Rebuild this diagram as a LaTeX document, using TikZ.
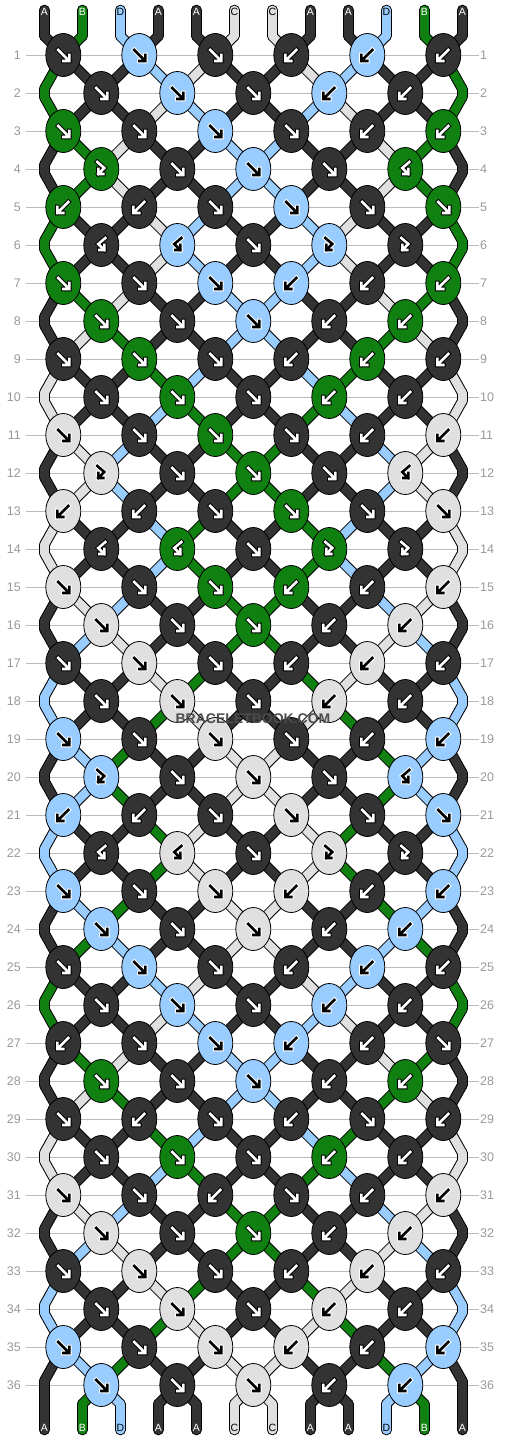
\documentclass[tikz,border=0pt]{standalone}
\usepackage{fontspec}
\setsansfont{Liberation Sans}
\usetikzlibrary{shapes.geometric}
\pgfdeclarelayer{back}
\pgfsetlayers{back,main}

\definecolor{strA}{HTML}{333333}
\definecolor{strB}{HTML}{108010}
\definecolor{strC}{HTML}{E0E0E0}
\definecolor{strD}{HTML}{99CCFF}
\colorlet{arrfgA}{white}\colorlet{arrbgA}{black}
\colorlet{arrfgB}{white}\colorlet{arrbgB}{black}
\colorlet{arrfgC}{black}\colorlet{arrbgC}{white}
\colorlet{arrfgD}{black}\colorlet{arrbgD}{white}
\definecolor{gridgray}{HTML}{BBBBBB}
\definecolor{numgray}{HTML}{999999}

\tikzset{
  knot/.style={ellipse, draw=black, line width=0.8pt, minimum width=35pt, minimum height=43pt, inner sep=0pt},
  strout/.style={line width=10.6pt, color=black, line cap=round},
  strfill/.style={line width=8.6pt, color=str#1, line cap=round},
  arrbg/.style={line width=4.6pt, color=arrbg#1, line cap=rect},
  arrfg/.style={line width=2.6pt, color=arrfg#1, line cap=rect},
  gridline/.style={line width=0.8pt, color=gridgray},
  rownum/.style={font=\sffamily\fontsize{12.5}{12.5}\selectfont, text=numgray, inner sep=0pt},
  endlab/.style={font=\sffamily\fontsize{10.5}{10.5}\selectfont, text=arrfg#1, inner sep=0pt},
  pics/arrf/.style={code={
    \draw[arrbg=#1] (-5,-5) -- (5.5,5.5) (6,0) -- (6,6) -- (0,6);
    \draw[arrfg=#1] (-5,-5) -- (5.5,5.5) (6,0) -- (6,6) -- (0,6);}},
  pics/arrb/.style={code={
    \draw[arrbg=#1] (5,-5) -- (-5.5,5.5) (-6,0) -- (-6,6) -- (0,6);
    \draw[arrfg=#1] (5,-5) -- (-5.5,5.5) (-6,0) -- (-6,6) -- (0,6);}},
  pics/arrfb/.style={code={
    \draw[arrbg=#1] (-4,-7) -- (3,-1) -- (-3,5) (-3,0) -- (-3,5) -- (2,5);
    \draw[arrfg=#1] (-4,-7) -- (3,-1) -- (-3,5) (-3,0) -- (-3,5) -- (2,5);}},
  pics/arrbf/.style={code={
    \draw[arrbg=#1] (4,-7) -- (-3,-1) -- (3,5) (3,0) -- (3,5) -- (-2,5);
    \draw[arrfg=#1] (4,-7) -- (-3,-1) -- (3,5) (3,0) -- (3,5) -- (-2,5);}}
}

% colour of each strand position after every row
\def\strandrows{
  0/{A,B,D,A,A,C,C,A,A,D,B,A}, 1/{B,A,A,D,C,A,A,C,D,A,A,B},
  2/{B,A,A,C,D,A,A,D,C,A,A,B}, 3/{A,B,C,A,A,D,D,A,A,C,B,A},
  4/{A,B,C,A,A,D,D,A,A,C,B,A}, 5/{B,A,A,C,D,A,A,D,C,A,A,B},
  6/{B,A,A,C,D,A,A,D,C,A,A,B}, 7/{A,B,C,A,A,D,D,A,A,C,B,A},
  8/{A,C,B,A,A,D,D,A,A,B,C,A}, 9/{C,A,A,B,D,A,A,D,B,A,A,C},
  10/{C,A,A,D,B,A,A,B,D,A,A,C}, 11/{A,C,D,A,A,B,B,A,A,D,C,A},
  12/{A,C,D,A,A,B,B,A,A,D,C,A}, 13/{C,A,A,D,B,A,A,B,D,A,A,C},
  14/{C,A,A,D,B,A,A,B,D,A,A,C}, 15/{A,C,D,A,A,B,B,A,A,D,C,A},
  16/{A,D,C,A,A,B,B,A,A,C,D,A}, 17/{D,A,A,C,B,A,A,B,C,A,A,D},
  18/{D,A,A,B,C,A,A,C,B,A,A,D}, 19/{A,D,B,A,A,C,C,A,A,B,D,A},
  20/{A,D,B,A,A,C,C,A,A,B,D,A}, 21/{D,A,A,B,C,A,A,C,B,A,A,D},
  22/{D,A,A,B,C,A,A,C,B,A,A,D}, 23/{A,D,B,A,A,C,C,A,A,B,D,A},
  24/{A,B,D,A,A,C,C,A,A,D,B,A}, 25/{B,A,A,D,C,A,A,C,D,A,A,B},
  26/{B,A,A,C,D,A,A,D,C,A,A,B}, 27/{A,B,C,A,A,D,D,A,A,C,B,A},
  28/{A,C,B,A,A,D,D,A,A,B,C,A}, 29/{C,A,A,B,D,A,A,D,B,A,A,C},
  30/{C,A,A,D,B,A,A,B,D,A,A,C}, 31/{A,C,D,A,A,B,B,A,A,D,C,A},
  32/{A,D,C,A,A,B,B,A,A,C,D,A}, 33/{D,A,A,C,B,A,A,B,C,A,A,D},
  34/{D,A,A,B,C,A,A,C,B,A,A,D}, 35/{A,D,B,A,A,C,C,A,A,B,D,A},
  36/{A,B,D,A,A,C,C,A,A,D,B,A}}

% knot type / knot colour, row by row
\def\knotrows{
  1/{f/A,f/D,f/A,b/A,b/D,b/A}, 2/{f/A,f/D,f/A,b/D,b/A},
  3/{f/B,f/A,f/D,f/A,b/A,b/B}, 4/{fb/B,f/A,f/D,f/A,bf/B},
  5/{b/B,b/A,f/A,f/D,f/A,f/B}, 6/{bf/A,bf/D,f/A,fb/D,fb/A},
  7/{f/B,f/A,f/D,b/D,b/A,b/B}, 8/{f/B,f/A,f/D,b/A,b/B},
  9/{f/A,f/B,f/A,b/A,b/B,b/A}, 10/{f/A,f/B,f/A,b/B,b/A},
  11/{f/C,f/A,f/B,f/A,b/A,b/C}, 12/{fb/C,f/A,f/B,f/A,bf/C},
  13/{b/C,b/A,f/A,f/B,f/A,f/C}, 14/{bf/A,bf/B,f/A,fb/B,fb/A},
  15/{f/C,f/A,f/B,b/B,b/A,b/C}, 16/{f/C,f/A,f/B,b/A,b/C},
  17/{f/A,f/C,f/A,b/A,b/C,b/A}, 18/{f/A,f/C,f/A,b/C,b/A},
  19/{f/D,f/A,f/C,f/A,b/A,b/D}, 20/{fb/D,f/A,f/C,f/A,bf/D},
  21/{b/D,b/A,f/A,f/C,f/A,f/D}, 22/{bf/A,bf/C,f/A,fb/C,fb/A},
  23/{f/D,f/A,f/C,b/C,b/A,b/D}, 24/{f/D,f/A,f/C,b/A,b/D},
  25/{f/A,f/D,f/A,b/A,b/D,b/A}, 26/{f/A,f/D,f/A,b/D,b/A},
  27/{b/A,f/A,f/D,b/D,b/A,f/A}, 28/{f/B,f/A,f/D,b/A,b/B},
  29/{f/A,b/A,f/A,b/A,f/A,b/A}, 30/{f/A,f/B,f/A,b/B,b/A},
  31/{f/C,f/A,b/A,f/A,b/A,b/C}, 32/{f/C,f/A,f/B,b/A,b/C},
  33/{f/A,f/C,f/A,b/A,b/C,b/A}, 34/{f/A,f/C,f/A,b/C,b/A},
  35/{f/D,f/A,f/C,b/C,b/A,b/D}, 36/{f/D,f/A,f/C,b/A,b/D}}

\begin{document}
\begin{tikzpicture}[x=1pt,y=-1pt]
\useasboundingbox (0,0) rectangle (506,1440);

% strand ends and edge bends
\foreach \i in {1,...,12}{
  \pgfmathsetmacro\sx{44.3+38*(\i-1)}
  \coordinate (t\i) at (\sx,10);
  \coordinate (to\i) at (\sx,36);
  \coordinate (ui\i) at (\sx,1404);
  \coordinate (u\i) at (\sx,1430);
}
\foreach \r in {2,4,...,36}{
  \coordinate (eLi\r) at (44.3,17+38*\r-4);
  \coordinate (eLo\r) at (44.3,17+38*\r+4);
  \coordinate (eRi\r) at (462.3,17+38*\r-4);
  \coordinate (eRo\r) at (462.3,17+38*\r+4);
}

% row rules and numbers
\begin{pgfonlayer}{back}
\foreach \r in {1,...,36}{
  \node[rownum, anchor=east] (nl\r) at (21,17+38*\r) {\r};
  \node[rownum, anchor=west] (nr\r) at (480,17+38*\r) {\r};
  \draw[gridline] (26,17+38*\r) -- (479,17+38*\r);
}
\end{pgfonlayer}

% knots
\foreach \r/\knots in \knotrows{
  \foreach \t/\c [count=\k] in \knots{
    \ifodd\r \pgfmathsetmacro\kx{63.3+76*(\k-1)}\else \pgfmathsetmacro\kx{101.3+76*(\k-1)}\fi
    \node[knot, fill=str\c] (k\r-\k) at (\kx,17+38*\r) {};
    \pic at (k\r-\k.center) {arr\t=\c};
  }
}

% strands: outlines first, then fills
\begin{pgfonlayer}{back}
\foreach \pass in {out,fill}{
\foreach \r/\cols in \strandrows{
  \pgfmathtruncatemacro\rr{\r+1}
  \foreach \c [count=\i] in \cols{
    \pgfmathtruncatemacro\ka{(\i+1)/2}
    \pgfmathtruncatemacro\kb{\i/2}
    \ifnum\r=0 \edef\src{to\i}\else\ifodd\r \edef\src{k\r-\ka}\else
      \ifnum\i=1 \edef\src{eLo\r}\else\ifnum\i=12 \edef\src{eRo\r}\else
      \edef\src{k\r-\kb}\fi\fi\fi\fi
    \ifnum\rr=37 \edef\tgt{ui\i}\else\ifodd\rr \edef\tgt{k\rr-\ka}\else
      \ifnum\i=1 \edef\tgt{eLi\rr}\else\ifnum\i=12 \edef\tgt{eRi\rr}\else
      \edef\tgt{k\rr-\kb}\fi\fi\fi\fi
    \draw[str\pass=\c] (\src.center) -- (\tgt.center);
    \ifnum\r=0 \draw[str\pass=\c] (t\i) -- (to\i);\fi
    \ifnum\r=36 \draw[str\pass=\c] (ui\i) -- (u\i);\fi
    \ifodd\r\else\ifnum\r>0
      \ifnum\i=1 \draw[str\pass=\c] (eLi\r) -- (eLo\r);\fi
      \ifnum\i=12 \draw[str\pass=\c] (eRi\r) -- (eRo\r);\fi
    \fi\fi
  }
}}
\end{pgfonlayer}

% strand letters
\foreach \c [count=\i] in {A,B,D,A,A,C,C,A,A,D,B,A}{
  \node[endlab=\c] (lt\i) at ([yshift=-2pt]t\i) {\c};
  \node[endlab=\c] (lb\i) at ([yshift=2pt]u\i) {\c};
}

\node[font=\sffamily\bfseries\fontsize{14}{14}\selectfont, text=black!70] (mark) at (253,719) {BRACELETBOOK.COM};
\end{tikzpicture}
\end{document}
